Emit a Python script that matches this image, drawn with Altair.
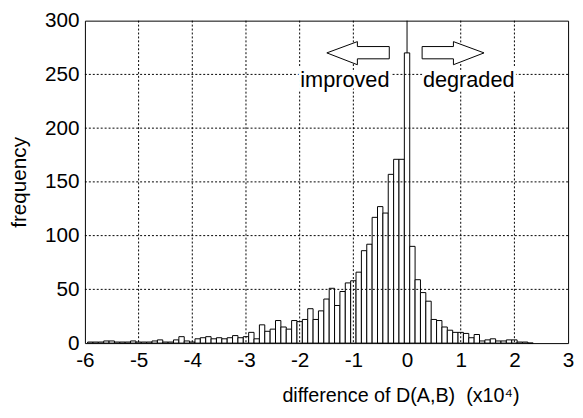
import altair as alt
import pandas as pd

FONT = "Liberation Sans"

# histogram bin centres (x10^4) and frequencies
bin_centers = [-5.9, -5.8, -5.7, -5.6, -5.5, -5.4, -5.3, -5.2, -5.1, -5.0,
               -4.9, -4.8, -4.7, -4.6, -4.5, -4.4, -4.3, -4.2, -4.1, -4.0,
               -3.9, -3.8, -3.7, -3.6, -3.5, -3.4, -3.3, -3.2, -3.1, -3.0,
               -2.9, -2.8, -2.7, -2.6, -2.5, -2.4, -2.3, -2.2, -2.1, -2.0,
               -1.9, -1.8, -1.7, -1.6, -1.5, -1.4, -1.3, -1.2, -1.1, -1.0,
               -0.9, -0.8, -0.7, -0.6, -0.5, -0.4, -0.3, -0.2, -0.1, 0.0,
               0.1, 0.2, 0.3, 0.4, 0.5, 0.6, 0.7, 0.8, 0.9, 1.0,
               1.1, 1.2, 1.3, 1.4, 1.5, 1.6, 1.7, 1.8, 1.9, 2.0,
               2.1, 2.2, 2.3]
counts = [1, 1, 1, 2, 2, 1, 1, 1, 2, 1,
          1, 1, 2, 3, 1, 1, 3, 6, 2, 1,
          4, 5, 6, 4, 5, 4, 5, 7, 5, 6,
          10, 4, 17, 11, 13, 21, 15, 13, 21, 20,
          22, 32, 22, 30, 41, 51, 35, 48, 56, 58,
          66, 86, 92, 117, 127, 121, 157, 171, 171, 270,
          90, 59, 47, 39, 22, 21, 15, 12, 10, 10,
          9, 5, 8, 2, 3, 4, 2, 2, 3, 3,
          1, 1, 0]
BIN_WIDTH = 0.1

x_ticks = [-6, -5, -4, -3, -2, -1, 0, 1, 2, 3]
y_ticks = [0, 50, 100, 150, 200, 250, 300]
x_grid = [-5, -4, -3, -2, -1, 1, 2]
y_grid = [50, 100, 150, 200, 250]

# annotation arrows (outline vertices, data units)
left_arrow_x = [-1.494, -0.925, -0.925, -0.331, -0.331, -0.925, -0.925, -1.494]
left_arrow_y = [270, 280.5, 275.9, 275.9, 264.5, 264.5, 259, 270]
right_arrow_x = [1.434, 0.864, 0.864, 0.281, 0.281, 0.864, 0.864, 1.434]
right_arrow_y = [270, 280.5, 275.9, 275.9, 264.5, 264.5, 259, 270]

labels = ["improved", "degraded"]
label_x = [-1.158, 1.149]
label_y = [238.5, 238.5]

bars = pd.DataFrame({
    "x0": [c - BIN_WIDTH / 2 for c in bin_centers],
    "x1": [c + BIN_WIDTH / 2 for c in bin_centers],
    "count": counts,
})
arrows = pd.DataFrame({
    "x": left_arrow_x + right_arrow_x,
    "y": left_arrow_y + right_arrow_y,
    "arrow": ["left"] * len(left_arrow_x) + ["right"] * len(right_arrow_x),
    "order": list(range(len(left_arrow_x))) + list(range(len(right_arrow_x))),
})
texts = pd.DataFrame({"text": labels, "x": label_x, "y": label_y})

x_scale = alt.Scale(domain=[-6, 3], nice=False, zero=False)
y_scale = alt.Scale(domain=[0, 300], nice=False)

x_axis = alt.Axis(
    values=x_ticks, grid=False, tickSize=0, ticks=False, domain=False,
    labelPadding=7, labelFontSize=21, labelFont=FONT, labelColor="black",
    labelExpr="'' + datum.value", labelOverlap=False, labelFlush=False,
    title="difference of D(A,B) \u00a0(x10\u2074)", titleFont=FONT, titleFontSize=20,
    titleFontWeight="normal", titleColor="black", titleX=320, titleY=59,
    titleAlign="center", titleBaseline="alphabetic",
)
y_axis = alt.Axis(
    values=y_ticks, grid=False, tickSize=0, ticks=False, domain=False,
    labelPadding=6, labelFontSize=21, labelFont=FONT, labelColor="black",
    labelExpr="'' + datum.value", labelOverlap=False, labelFlush=False,
    title="frequency", titleFont=FONT, titleFontSize=21, titleFontWeight="normal",
    titleColor="black", titleX=-60, titleY=163.5, titleAngle=270,
    titleAlign="center", titleBaseline="alphabetic",
)

zero_line = alt.Chart(pd.DataFrame({"x": [0], "y": [0], "y2": [300]})).mark_rule(
    color="black", strokeWidth=1
).encode(
    x=alt.X("x:Q", scale=x_scale, axis=x_axis),
    y=alt.Y("y:Q", scale=y_scale, axis=y_axis),
    y2="y2:Q",
)

hist = alt.Chart(bars).mark_rect(fill="white", stroke="black", strokeWidth=1).encode(
    x=alt.X("x0:Q", scale=x_scale),
    x2="x1:Q",
    y=alt.Y("count:Q", scale=y_scale),
    y2=alt.datum(0),
)

vgrid = alt.Chart(pd.DataFrame({"g": x_grid})).mark_rule(
    color="black", strokeWidth=1, strokeDash=[2, 2]
).encode(x=alt.X("g:Q", scale=x_scale))

hgrid = alt.Chart(pd.DataFrame({"g": y_grid})).mark_rule(
    color="black", strokeWidth=1, strokeDash=[2, 2]
).encode(y=alt.Y("g:Q", scale=y_scale))

arrow_layer = alt.Chart(arrows).mark_line(
    fill="white", stroke="black", strokeWidth=1, strokeJoin="miter"
).encode(
    x=alt.X("x:Q", scale=x_scale),
    y=alt.Y("y:Q", scale=y_scale),
    detail="arrow:N",
    order="order:Q",
)

halo = alt.Chart(texts).mark_text(
    font=FONT, fontSize=22, align="center", baseline="alphabetic",
    stroke="white", strokeWidth=6, fill="white"
).encode(x=alt.X("x:Q", scale=x_scale), y=alt.Y("y:Q", scale=y_scale), text="text:N")

label_layer = alt.Chart(texts).mark_text(
    font=FONT, fontSize=22, align="center", baseline="alphabetic", color="black"
).encode(x=alt.X("x:Q", scale=x_scale), y=alt.Y("y:Q", scale=y_scale), text="text:N")

chart = alt.layer(
    zero_line, hist, vgrid, hgrid, arrow_layer, halo, label_layer
).properties(
    width=490,
    height=327,
    autosize=alt.AutoSizeParams(type="none"),
    padding={"left": 78, "top": 10, "right": 7, "bottom": 65},
    background="white",
).configure_view(
    stroke="black", strokeWidth=1
)

chart.save("out.html", embed_options={"renderer": "svg", "actions": False})
